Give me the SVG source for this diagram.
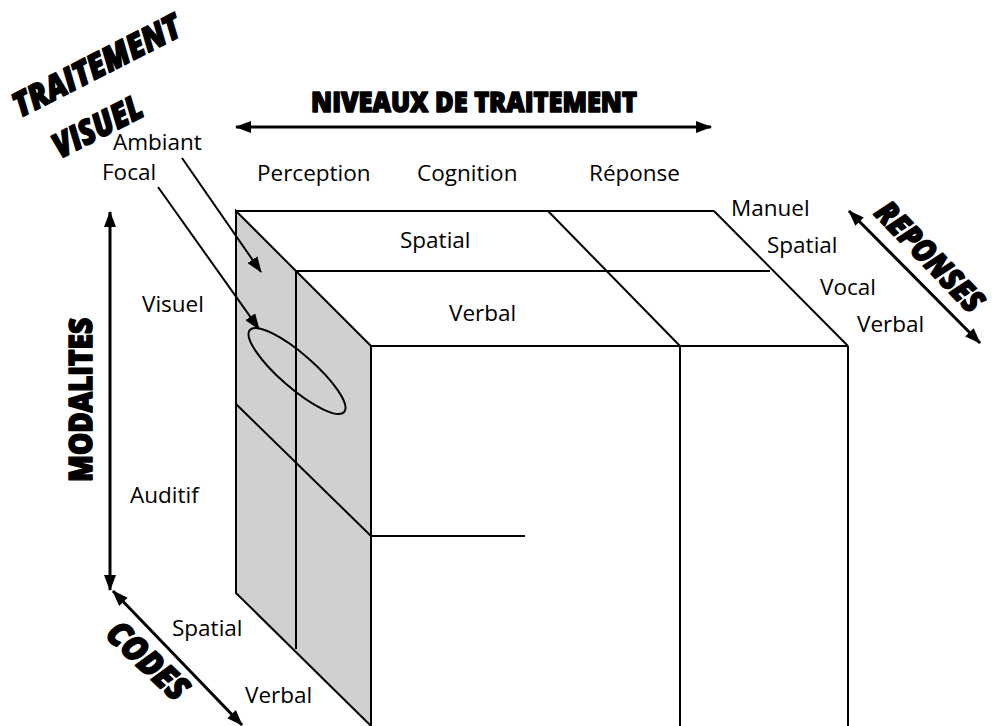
<svg xmlns="http://www.w3.org/2000/svg" width="1002" height="726" viewBox="0 0 1002 726">
<style>
.lbl{font-family:"Open Sans","Liberation Sans",sans-serif;font-size:22.5px;fill:#000}
.ttl{font-family:"Open Sans","Liberation Sans",sans-serif;font-weight:800;fill:#000;stroke:#000;stroke-width:1.6px;stroke-linejoin:round}
.it{font-style:italic}
.edge{fill:none;stroke:#000;stroke-width:2}
.arr{fill:none;stroke:#000;stroke-width:3}
.thin{fill:none;stroke:#000;stroke-width:2}
</style>
<defs>
<marker id="ah" viewBox="0 0 16 12" refX="15" refY="6" markerWidth="16" markerHeight="12" orient="auto-start-reverse" markerUnits="userSpaceOnUse">
<path d="M0,0 L16,6 L0,12 z" fill="#000"/>
</marker>
</defs>
<rect width="1002" height="726" fill="#fff"/>
<g id="cube">
<polygon points="236,211 371,346 371,726 236,593" fill="#d0d0d0" stroke="#000" stroke-width="2"/>
<line class="edge" x1="236" y1="211" x2="714" y2="211"/>
<line class="edge" x1="714" y1="211" x2="848" y2="346"/>
<line class="edge" x1="848" y1="346" x2="848" y2="726"/>
<line class="edge" x1="371" y1="346" x2="848" y2="346"/>
<line class="edge" x1="296" y1="271" x2="770" y2="271"/>
<line class="edge" x1="296" y1="271" x2="296" y2="649"/>
<line class="edge" x1="548" y1="211" x2="680" y2="346"/>
<line class="edge" x1="680" y1="346" x2="680" y2="726"/>
<line class="edge" x1="236" y1="404" x2="371" y2="536"/>
<line class="edge" x1="371" y1="536" x2="525" y2="536"/>
<ellipse cx="297" cy="371" rx="62.5" ry="17" transform="rotate(41 297 371)" fill="none" stroke="#000" stroke-width="2"/>
</g>
<g id="connectors">
<line class="arr" x1="236" y1="127" x2="711" y2="127" marker-start="url(#ah)" marker-end="url(#ah)"/>
<line class="arr" x1="110" y1="212" x2="110" y2="590" marker-start="url(#ah)" marker-end="url(#ah)"/>
<line class="arr" x1="113" y1="591" x2="242" y2="725" marker-start="url(#ah)" marker-end="url(#ah)"/>
<line class="arr" x1="849" y1="211" x2="980" y2="343" marker-start="url(#ah)" marker-end="url(#ah)"/>
<line class="thin" x1="182" y1="158" x2="261" y2="272" marker-end="url(#ah)"/>
<line class="thin" x1="158" y1="187" x2="259" y2="329" marker-end="url(#ah)"/>
</g>
<g id="titles">
<text class="ttl" x="311" y="112" font-size="29" textLength="326" lengthAdjust="spacingAndGlyphs">NIVEAUX DE TRAITEMENT</text>
<text class="ttl" transform="translate(92 482) rotate(-90)" font-size="32" textLength="164" lengthAdjust="spacingAndGlyphs">MODALITES</text>
<text class="ttl it" transform="translate(873 214) rotate(46)" font-size="32" textLength="140" lengthAdjust="spacingAndGlyphs">REPONSES</text>
<text class="ttl it" transform="translate(104 636) rotate(43)" font-size="34" textLength="98" lengthAdjust="spacingAndGlyphs">CODES</text>
<text class="ttl it" transform="translate(20 118) rotate(-27)" font-size="34" textLength="184" lengthAdjust="spacingAndGlyphs">TRAITEMENT</text>
<text class="ttl it" transform="translate(60 159) rotate(-27)" font-size="34" textLength="96" lengthAdjust="spacingAndGlyphs">VISUEL</text>
</g>
<g id="labels">
<text class="lbl" x="113" y="150">Ambiant</text>
<text class="lbl" x="102" y="180">Focal</text>
<text class="lbl" x="257" y="181">Perception</text>
<text class="lbl" x="417" y="181">Cognition</text>
<text class="lbl" x="589" y="181">Réponse</text>
<text class="lbl" x="400" y="248">Spatial</text>
<text class="lbl" x="449" y="321">Verbal</text>
<text class="lbl" x="142" y="312">Visuel</text>
<text class="lbl" x="130" y="503">Auditif</text>
<text class="lbl" x="731" y="216">Manuel</text>
<text class="lbl" x="767" y="253">Spatial</text>
<text class="lbl" x="820" y="295">Vocal</text>
<text class="lbl" x="857" y="332">Verbal</text>
<text class="lbl" x="172" y="636">Spatial</text>
<text class="lbl" x="245" y="703">Verbal</text>
</g>
</svg>
